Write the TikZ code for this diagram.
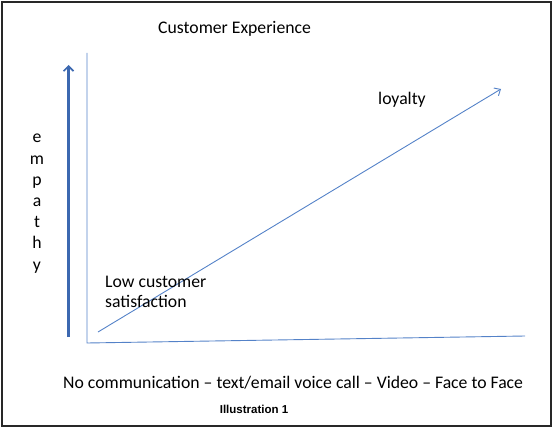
\documentclass[tikz,border=0pt]{standalone}
\usepackage{fontspec}
\setmainfont{Carlito}
\newfontfamily\arialfont{Liberation Sans}
\usetikzlibrary{arrows.meta}
\definecolor{lineblue}{RGB}{84,130,200}
\definecolor{thickblue}{RGB}{60,104,176}
\definecolor{framecol}{RGB}{40,40,40}
\begin{document}
\begin{tikzpicture}[x=1pt,y=-1pt,
  lbl/.style={font=\fontsize{17.7}{21}\selectfont, inner sep=0pt, anchor=base west},
  letter/.style={font=\fontsize{17.7}{21}\selectfont, inner sep=0pt, anchor=base},
  thinline/.style={draw=lineblue, line width=0.9pt},
  thickarrow/.style={draw=thickblue, line width=2.4pt, -{Straight Barb[length=5pt,width=10pt,line width=1.6pt]}},
  thinarrow/.style={draw=lineblue, line width=0.9pt, -{Straight Barb[length=5pt,width=9pt]}}]
\useasboundingbox (0,0) rectangle (554,428);
\draw[framecol, line width=2pt] (2,2) rectangle (551,426);
% axes
\coordinate (vtop) at (87,53);
\coordinate (origin) at (87,343);
\coordinate (hend) at (525,336);
\draw[thinline] (vtop) -- (origin) -- (hend);
% empathy arrow
\coordinate (ebot) at (68.5,337);
\coordinate (etop) at (68.5,65);
\draw[thickarrow] (ebot) -- (etop);
% diagonal
\coordinate (dstart) at (98,332);
\coordinate (dend) at (501,89);
\draw[thinarrow] (dstart) -- (dend);
% texts
\node[lbl] (title) at (158,34) {Customer Experience};
\node[lbl] (loyal) at (378,104) {loyalty};
\node[lbl] (low1) at (105,287) {Low customer};
\node[lbl] (low2) at (105,307) {satisfaction};
\node[lbl] (xlab) at (63,388) {No communication – text/email voice call – Video – Face to Face};
\node[inner sep=0pt, anchor=base, font=\arialfont\bfseries\fontsize{11.5}{13}\selectfont] (ill) at (254,413) {Illustration 1};
\node[letter] (l1) at (37,142.5) {e};
\node[letter] (l2) at (37,164) {m};
\node[letter] (l3) at (37,185) {p};
\node[letter] (l4) at (37,206) {a};
\node[letter] (l5) at (37,227.3) {t};
\node[letter] (l6) at (37,248.7) {h};
\node[letter] (l7) at (37,270) {y};
\end{tikzpicture}
\end{document}
